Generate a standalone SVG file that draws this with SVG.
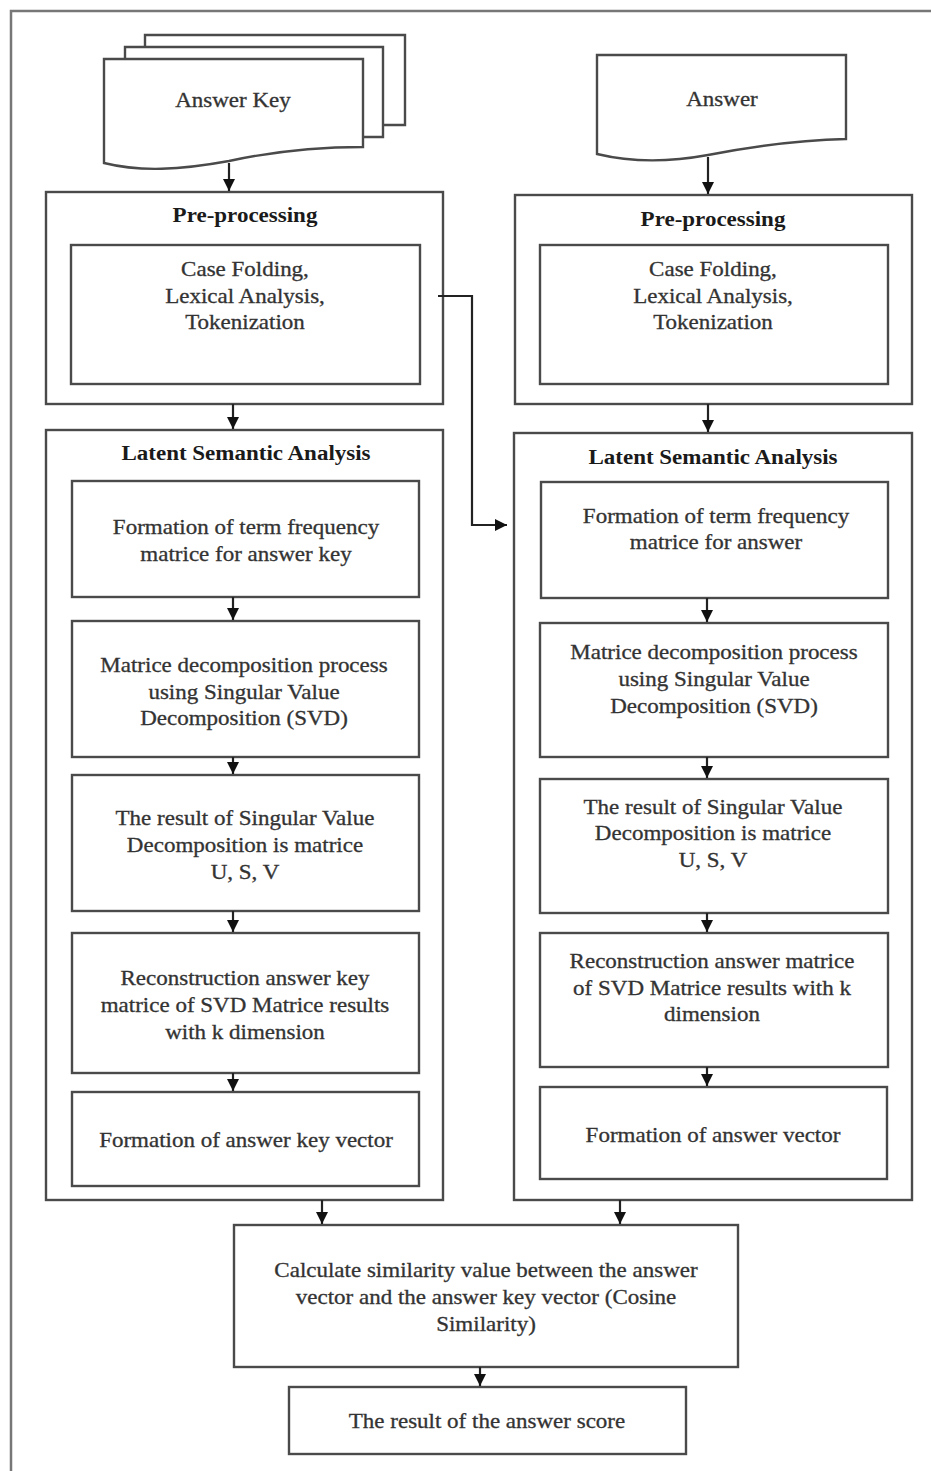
<svg xmlns="http://www.w3.org/2000/svg" width="931" height="1471" viewBox="0 0 931 1471">
<style>
.box{fill:#fff;stroke:#4a4a4a;stroke-width:2.4}
.doc{fill:#fff;stroke:#4a4a4a;stroke-width:2.4}
.frame{fill:none;stroke:#777;stroke-width:2.5}
.con{fill:none;stroke:#222;stroke-width:2.2}
.t{font-family:"Liberation Serif","Times New Roman",serif;font-size:20px;fill:#333;stroke:#333;stroke-width:0.3;text-anchor:middle}
.b{font-family:"Liberation Serif","Times New Roman",serif;font-size:20px;font-weight:bold;fill:#1a1a1a;text-anchor:middle}
</style>
<defs>
<marker id="ah" viewBox="0 0 12 12" refX="12" refY="6" markerWidth="12" markerHeight="12" markerUnits="userSpaceOnUse" orient="auto">
<path d="M0,0 L12,6 L0,12 Z" fill="#111"/>
</marker>
</defs>
<rect width="931" height="1471" fill="#fff"/>
<path class="frame" d="M11,1471 V11 H931"/>

<g id="answer-key">
<path class="doc" d="M145,125 V35 H405 V125 Z"/>
<path class="doc" d="M125,137 V47 H383 V137 Z"/>
<path class="doc" d="M104,163 V59 H363 V147 C320,147 280,150 229,161 C180,170 140,172 104,163 Z"/>
<text class="t" transform="translate(233,0) scale(1.15,1)" x="0" y="107">Answer Key</text>
</g>

<g id="answer">
<path class="doc" d="M597,154 V55 H846 V139 C800,140 760,145 708,155 C670,162 630,162 597,154 Z"/>
<text class="t" transform="translate(722,0) scale(1.15,1)" x="0" y="106">Answer</text>
</g>

<g id="pre-left">
<rect class="box" x="46" y="192" width="397" height="212"/>
<text class="b" transform="translate(245,0) scale(1.15,1)" x="0" y="222">Pre-processing</text>
<rect class="box" x="71" y="245" width="349" height="139"/>
<text class="t" transform="translate(245,0) scale(1.15,1)" x="0"><tspan x="0" y="276">Case Folding,</tspan><tspan x="0" y="303">Lexical Analysis,</tspan><tspan x="0" y="329">Tokenization</tspan></text>
</g>

<g id="pre-right">
<rect class="box" x="515" y="195" width="397" height="209"/>
<text class="b" transform="translate(713,0) scale(1.15,1)" x="0" y="226">Pre-processing</text>
<rect class="box" x="540" y="245" width="348" height="139"/>
<text class="t" transform="translate(713,0) scale(1.15,1)" x="0"><tspan x="0" y="276">Case Folding,</tspan><tspan x="0" y="303">Lexical Analysis,</tspan><tspan x="0" y="329">Tokenization</tspan></text>
</g>

<g id="lsa-left">
<rect class="box" x="46" y="430" width="397" height="770"/>
<text class="b" transform="translate(246,0) scale(1.15,1)" x="0" y="460">Latent Semantic Analysis</text>
</g>
<g id="tf-left">
<rect class="box" x="72" y="481" width="347" height="116"/>
<text class="t" transform="translate(246,0) scale(1.15,1)" x="0"><tspan x="0" y="534">Formation of term frequency</tspan><tspan x="0" y="561">matrice for answer key</tspan></text>
</g>
<g id="svd-left">
<rect class="box" x="72" y="621" width="347" height="136"/>
<text class="t" transform="translate(244,0) scale(1.15,1)" x="0"><tspan x="0" y="672">Matrice decomposition process</tspan><tspan x="0" y="699">using Singular Value</tspan><tspan x="0" y="725">Decomposition (SVD)</tspan></text>
</g>
<g id="usv-left">
<rect class="box" x="72" y="775" width="347" height="136"/>
<text class="t" transform="translate(245,0) scale(1.15,1)" x="0"><tspan x="0" y="825">The result of Singular Value</tspan><tspan x="0" y="852">Decomposition is matrice</tspan><tspan x="0" y="879">U, S, V</tspan></text>
</g>
<g id="rec-left">
<rect class="box" x="72" y="933" width="347" height="140"/>
<text class="t" transform="translate(245,0) scale(1.15,1)" x="0"><tspan x="0" y="985">Reconstruction answer key</tspan><tspan x="0" y="1012">matrice of SVD Matrice results</tspan><tspan x="0" y="1039">with k dimension</tspan></text>
</g>
<g id="vec-left">
<rect class="box" x="72" y="1092" width="347" height="94"/>
<text class="t" transform="translate(246,0) scale(1.15,1)" x="0" y="1147">Formation of answer key vector</text>
</g>

<g id="lsa-right">
<rect class="box" x="514" y="433" width="398" height="767"/>
<text class="b" transform="translate(713,0) scale(1.15,1)" x="0" y="464">Latent Semantic Analysis</text>
</g>
<g id="tf-right">
<rect class="box" x="541" y="482" width="347" height="116"/>
<text class="t" transform="translate(716,0) scale(1.15,1)" x="0"><tspan x="0" y="523">Formation of term frequency</tspan><tspan x="0" y="549">matrice for answer</tspan></text>
</g>
<g id="svd-right">
<rect class="box" x="540" y="623" width="348" height="134"/>
<text class="t" transform="translate(714,0) scale(1.15,1)" x="0"><tspan x="0" y="659">Matrice decomposition process</tspan><tspan x="0" y="686">using Singular Value</tspan><tspan x="0" y="713">Decomposition (SVD)</tspan></text>
</g>
<g id="usv-right">
<rect class="box" x="540" y="779" width="348" height="134"/>
<text class="t" transform="translate(713,0) scale(1.15,1)" x="0"><tspan x="0" y="814">The result of Singular Value</tspan><tspan x="0" y="840">Decomposition is matrice</tspan><tspan x="0" y="867">U, S, V</tspan></text>
</g>
<g id="rec-right">
<rect class="box" x="540" y="933" width="348" height="134"/>
<text class="t" transform="translate(712,0) scale(1.15,1)" x="0"><tspan x="0" y="968">Reconstruction answer matrice</tspan><tspan x="0" y="995">of SVD Matrice results with k</tspan><tspan x="0" y="1021">dimension</tspan></text>
</g>
<g id="vec-right">
<rect class="box" x="540" y="1087" width="347" height="92"/>
<text class="t" transform="translate(713,0) scale(1.15,1)" x="0" y="1142">Formation of answer vector</text>
</g>

<g id="similarity">
<rect class="box" x="234" y="1225" width="504" height="142"/>
<text class="t" transform="translate(486,0) scale(1.15,1)" x="0"><tspan x="0" y="1277">Calculate similarity value between the answer</tspan><tspan x="0" y="1304">vector and the answer key vector (Cosine</tspan><tspan x="0" y="1331">Similarity)</tspan></text>
</g>
<g id="score">
<rect class="box" x="289" y="1387" width="397" height="67"/>
<text class="t" transform="translate(487,0) scale(1.15,1)" x="0" y="1428">The result of the answer score</text>
</g>

<g id="connectors">
<line class="con" x1="229" y1="163" x2="229" y2="191" marker-end="url(#ah)"/>
<line class="con" x1="708" y1="157" x2="708" y2="194" marker-end="url(#ah)"/>
<line class="con" x1="233" y1="404" x2="233" y2="429" marker-end="url(#ah)"/>
<line class="con" x1="708" y1="404" x2="708" y2="432" marker-end="url(#ah)"/>
<path class="con" d="M438,296 H472 V525 H507" marker-end="url(#ah)"/>
<line class="con" x1="233" y1="597" x2="233" y2="620" marker-end="url(#ah)"/>
<line class="con" x1="233" y1="757" x2="233" y2="774" marker-end="url(#ah)"/>
<line class="con" x1="233" y1="911" x2="233" y2="932" marker-end="url(#ah)"/>
<line class="con" x1="233" y1="1073" x2="233" y2="1091" marker-end="url(#ah)"/>
<line class="con" x1="707" y1="598" x2="707" y2="622" marker-end="url(#ah)"/>
<line class="con" x1="707" y1="757" x2="707" y2="778" marker-end="url(#ah)"/>
<line class="con" x1="707" y1="913" x2="707" y2="932" marker-end="url(#ah)"/>
<line class="con" x1="707" y1="1067" x2="707" y2="1086" marker-end="url(#ah)"/>
<line class="con" x1="322" y1="1200" x2="322" y2="1224" marker-end="url(#ah)"/>
<line class="con" x1="620" y1="1200" x2="620" y2="1224" marker-end="url(#ah)"/>
<line class="con" x1="480" y1="1367" x2="480" y2="1386" marker-end="url(#ah)"/>
</g>
</svg>
